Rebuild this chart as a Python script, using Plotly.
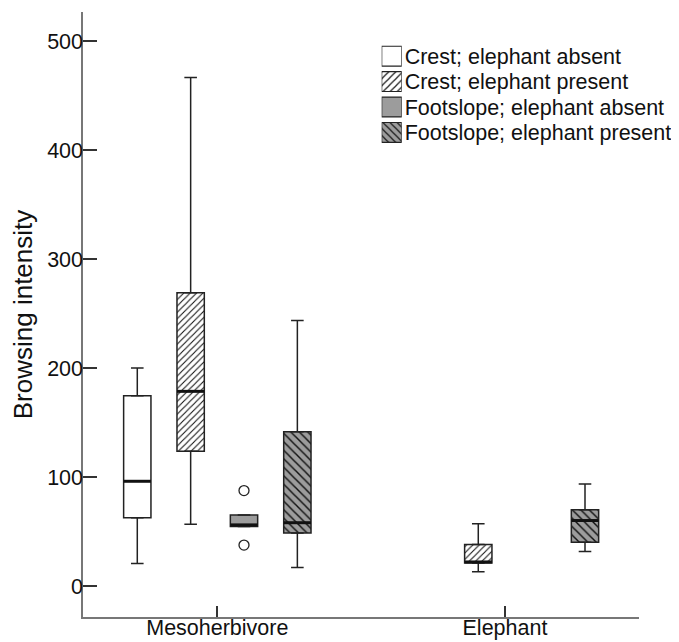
import plotly.graph_objects as go

# ---- data ----
groups = ["Mesoherbivore", "Elephant"]
series = ["Crest; elephant absent", "Crest; elephant present",
          "Footslope; elephant absent", "Footslope; elephant present"]

lower_whisker = [[21, None], [57, 13.5], [55, None], [17.5, 32]]
q1_values     = [[63, None], [124, 21.5], [55, None], [49, 40.5]]
median_values = [[96.5, None], [179, 22.5], [56.5, None], [58.5, 60.5]]
q3_values     = [[175, None], [269.5, 38.5], [65.5, None], [142, 70.5]]
upper_whisker = [[200.5, None], [467, 57.5], [65.5, None], [244, 94]]
outlier_series = [2, 2]
outlier_group = [0, 0]
outlier_values = [88, 38]

y_ticks = [0, 100, 200, 300, 400, 500]

# ---- styling ----
fills = ["white", "white", "#9c9c9c", "#9c9c9c"]
patterns = ["", "/", "", "\\"]
pattern_sizes = [6, 4.5, 6, 6]
edge = "#222222"
font = "Liberation Sans, Arial, sans-serif"
fs = 21.5
slot = 0.1855
box_w = 0.095
x_range = [-0.467, 1.466]
y_range = [-28, 527]

fig = go.Figure()

def pos(si, gi):
    return gi + (si - 1.5) * slot

def pattern(si, size):
    return dict(shape=patterns[si], fgcolor="#111111", bgcolor=fills[si],
                fillmode="replace", size=size, solidity=0.24)

for si, name in enumerate(series):
    xs, base, height = [], [], []
    for gi in range(len(groups)):
        if q1_values[si][gi] is None:
            continue
        xs.append(pos(si, gi))
        base.append(q1_values[si][gi])
        height.append(q3_values[si][gi] - q1_values[si][gi])
    fig.add_trace(go.Bar(
        x=xs, y=height, base=base, width=box_w, name=name,
        marker=dict(color=fills[si], line=dict(color=edge, width=1.5),
                    pattern=pattern(si, pattern_sizes[si])),
        showlegend=False, hoverinfo="skip"))

for si, name in enumerate(series):
    xs, q1s, q3s, lo, hi, med = [], [], [], [], [], []
    for gi in range(len(groups)):
        if q1_values[si][gi] is None:
            continue
        xs.append(pos(si, gi))
        q1s.append(q1_values[si][gi])
        q3s.append(q3_values[si][gi])
        lo.append(q1_values[si][gi] - lower_whisker[si][gi])
        hi.append(upper_whisker[si][gi] - q3_values[si][gi])
        med.append(median_values[si][gi])
    fig.add_trace(go.Scatter(
        x=xs, y=q3s, mode="markers", marker=dict(size=1, color="rgba(0,0,0,0)"),
        error_y=dict(type="data", symmetric=False, array=hi, arrayminus=[0] * len(xs),
                     width=6.3, thickness=1.5, color=edge),
        showlegend=False, hoverinfo="skip"))
    fig.add_trace(go.Scatter(
        x=xs, y=q1s, mode="markers", marker=dict(size=1, color="rgba(0,0,0,0)"),
        error_y=dict(type="data", symmetric=False, array=[0] * len(xs), arrayminus=lo,
                     width=6.3, thickness=1.5, color=edge),
        showlegend=False, hoverinfo="skip"))
    fig.add_trace(go.Scatter(
        x=xs, y=med, mode="markers", marker=dict(size=1, color="rgba(0,0,0,0)"),
        error_x=dict(type="data", symmetric=True, array=[box_w / 2] * len(xs),
                     width=0, thickness=3, color="#111111"),
        showlegend=False, hoverinfo="skip"))

# outliers (placed on the label axes, which share the main ranges exactly)
fig.add_trace(go.Scatter(
    x=[pos(s, g) for s, g in zip(outlier_series, outlier_group)], y=outlier_values,
    xaxis="x3", yaxis="y3",
    mode="markers", marker=dict(symbol="circle", size=10, color="white",
                                line=dict(color=edge, width=1.3)),
    showlegend=False, hoverinfo="skip"))

# ---- legend key: patterned swatches in a small inset, names as its labels ----
for si, name in enumerate(series):
    fig.add_trace(go.Bar(
        y=[name], x=[1], orientation="h", width=0.78,
        xaxis="x2", yaxis="y2", cliponaxis=False,
        marker=dict(color=fills[si], line=dict(color=edge, width=1.2),
                    pattern=pattern(si, 5)),
        showlegend=False, hoverinfo="skip"))

axis_common = dict(showgrid=False, zeroline=False, automargin=False)

fig.update_layout(
    template="none",
    width=671, height=634,
    margin=dict(l=75, r=40, t=4, b=25),
    paper_bgcolor="white", plot_bgcolor="white",
    barmode="overlay",
    font=dict(family=font, size=fs, color="#111111"),
    showlegend=False,
    # drawn axis lines and inside ticks
    xaxis=dict(range=x_range, tickvals=[0, 1], showticklabels=False,
               showline=True, linecolor="#777777", linewidth=1.5,
               ticks="inside", ticklen=11, tickwidth=1.5, tickcolor="#333333",
               **axis_common),
    yaxis=dict(range=y_range, tickvals=y_ticks, showticklabels=False,
               showline=True, linecolor="#777777", linewidth=1.5,
               ticks="inside", ticklen=14, tickwidth=1.5, tickcolor="#333333",
               **axis_common),
    # tick labels set close to the axis lines
    xaxis3=dict(range=x_range, overlaying="x", anchor="free", position=0.008,
                side="bottom", tickvals=[0, 1], ticktext=groups, ticks="",
                showline=False, **axis_common),
    yaxis3=dict(range=y_range, overlaying="y", anchor="free", position=0.0,
                side="left", tickvals=y_ticks, ticks="", showline=False,
                title=dict(text="Browsing intensity", standoff=15),
                **axis_common),
    xaxis2=dict(domain=[0.5372, 0.5732], range=[0, 1], anchor="y2",
                visible=False, fixedrange=True),
    yaxis2=dict(domain=[0.780, 0.948], anchor="x2", type="category",
                categoryorder="array", categoryarray=series, autorange="reversed",
                tickmode="array", tickvals=series, ticktext=series,
                side="right", showgrid=False, zeroline=False, showline=False,
                ticks="", ticklabelstandoff=2, automargin=False, fixedrange=True),
)

fig.write_html("out.html")
